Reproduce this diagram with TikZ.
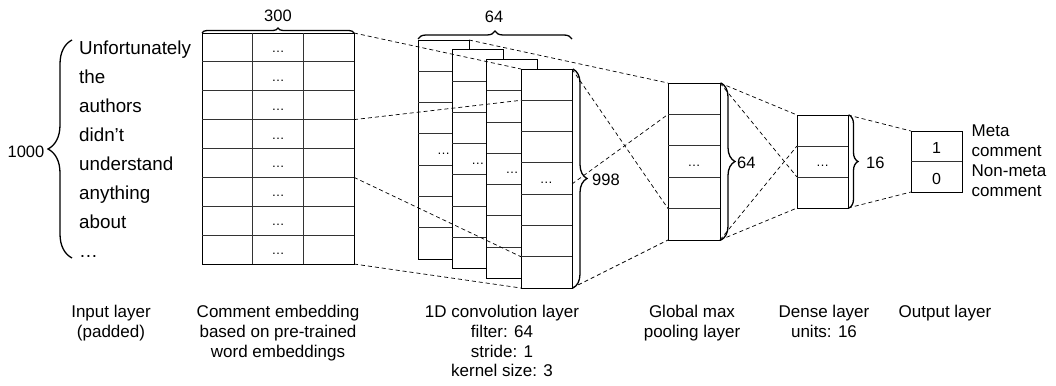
\documentclass[tikz,border=0pt]{standalone}
\usepackage{fontspec}
\setmainfont{Liberation Sans}
\usetikzlibrary{decorations.pathreplacing,calc}
\tikzset{
  layerbox/.style={draw=black, line width=0.8pt, fill=white, inner sep=0pt, outer sep=0pt, anchor=north west},
  gridline/.style={draw=black!80, line width=0.8pt},
  conn/.style={draw=black, line width=0.7pt, dash pattern=on 4pt off 3pt},
  bracedraw/.style={draw=black, line width=1.3pt, decorate, decoration={brace, amplitude=#1}},
  celldots/.style={font=\fontsize{13}{13}\selectfont, inner sep=0pt, anchor=base},
  wordtext/.style={font=\fontsize{18.8}{20}\selectfont, inner sep=0pt, anchor=base west},
  numtext/.style={font=\fontsize{16.5}{18}\selectfont, inner sep=0pt},
  layerlabel/.style={font=\fontsize{17}{19.7}\selectfont, align=center, inner sep=0pt, anchor=north},
}
\begin{document}
\begin{tikzpicture}[x=1pt,y=-1pt]
\useasboundingbox (0,0) rectangle (1056,385);

% input words
\foreach \w/\b [count=\k] in {Unfortunately/55, the/84, authors/113, didn’t/141.5, understand/170.5, anything/199, about/228, …/257}
  \node[wordtext] (w\k) at (79,\b) {\w};
\draw[bracedraw=24pt] (72,258) -- (72,40);
\node[numtext, anchor=base] (n1000) at (26,157) {1000};

% embedding matrix
\node[layerbox, minimum width=152pt, minimum height=231pt] (emb) at (202,33) {};
\foreach \i in {1,...,7}
  \draw[gridline] ($(emb.north west)!{\i/8}!(emb.south west)$) -- ($(emb.north east)!{\i/8}!(emb.south east)$);
\draw[gridline] ($(emb.north west)!{1/3}!(emb.north east)$) -- ($(emb.south west)!{1/3}!(emb.south east)$);
\draw[gridline] ($(emb.north west)!{2/3}!(emb.north east)$) -- ($(emb.south west)!{2/3}!(emb.south east)$);
\foreach \i in {0,...,7}
  \node[celldots] (ed\i) at ($(emb.north)!{(\i+0.5)/8}!(emb.south) + (0,5)$) {…};
\draw[bracedraw=5pt] (202,33) -- (354,33);
\node[numtext, anchor=base] (n300) at (278,22) {300};

% convolution stacks
\foreach \i in {0,...,3} {
  \node[layerbox, minimum width=51pt, minimum height=219pt] (c\i) at ({418+34.33*\i},{40+9.67*\i}) {};
  \foreach \k in {1,...,6}
    \draw[gridline] ($(c\i.north west)!{\k/7}!(c\i.south west)$) -- ($(c\i.north east)!{\k/7}!(c\i.south east)$);
  \node[celldots] (cd\i) at ($(c\i.north)!{3.5/7}!(c\i.south) + (0,5)$) {…};
}
\draw[bracedraw=8pt] (418,39) -- (572,39);
\node[numtext, anchor=base] (n64a) at (494,23) {64};
\draw[bracedraw=14pt] (573,69) -- (573,288);
\node[numtext, anchor=base west] (n998) at (592,185) {998};

% pooling layer
\node[layerbox, minimum width=52pt, minimum height=157pt] (pool) at (668,83) {};
\foreach \k in {1,...,4}
  \draw[gridline] ($(pool.north west)!{\k/5}!(pool.south west)$) -- ($(pool.north east)!{\k/5}!(pool.south east)$);
\node[celldots] (pd) at ($(pool.north)!{2.5/5}!(pool.south) + (0,5)$) {…};
\draw[bracedraw=14pt] (721,83) -- (721,240);
\node[numtext, anchor=base west] (n64b) at (737,168) {64};

% dense layer
\node[layerbox, minimum width=51pt, minimum height=93pt] (dense) at (797,115) {};
\foreach \k in {1,2}
  \draw[gridline] ($(dense.north west)!{\k/3}!(dense.south west)$) -- ($(dense.north east)!{\k/3}!(dense.south east)$);
\node[celldots] (dd) at ($(dense.north)!{1.5/3}!(dense.south) + (0,5)$) {…};
\draw[bracedraw=9pt] (849,115) -- (849,208);
\node[numtext, anchor=base west] (n16) at (866,168) {16};

% output layer
\node[layerbox, minimum width=51pt, minimum height=61pt] (out) at (911,131) {};
\draw[gridline] (out.west) -- (out.east);
\node[numtext, anchor=base, font=\fontsize{16}{18}\selectfont] (o1) at ($(out.north)!0.25!(out.south) + (0,7)$) {1};
\node[numtext, anchor=base, font=\fontsize{16}{18}\selectfont] (o0) at ($(out.north)!0.75!(out.south) + (0,7.5)$) {0};
\node[font=\fontsize{17}{20.2}\selectfont, align=left, anchor=north west, inner sep=0pt] (meta) at (971.5,124.3) {Meta\\comment\\Non-meta\\comment};

% dashed connectors
\draw[conn] (emb.north east) -- (c3.north west);
\draw[conn] ($(emb.north east)!{3/8}!(emb.south east)$) -- ($(c3.north west)!{1/7}!(c3.south west)$);
\draw[conn] ($(emb.north east)!{5/8}!(emb.south east)$) -- ($(c3.north west)!{6/7}!(c3.south west)$);
\draw[conn] (emb.south east) -- (c3.south west);
\draw[conn] (c0.north east) -- (pool.north west);
\draw[conn] (c3.north east) -- ($(pool.north west)!{4/5}!(pool.south west)$);
\draw[conn] ($(c3.north east)!0.525!(c3.south east)$) -- ($(pool.north west)!{1/5}!(pool.south west)$);
\draw[conn] (c3.south east) -- (pool.south west);
\draw[conn] (pool.north east) -- (dense.north west);
\draw[conn] (pool.north east) -- ($(dense.north west)!{2/3}!(dense.south west)$);
\draw[conn] (pool.south east) -- ($(dense.north west)!{1/3}!(dense.south west)$);
\draw[conn] (pool.south east) -- (dense.south west);
\draw[conn] (dense.north east) -- (out.north west);
\draw[conn] (dense.south east) -- (out.south west);

% layer labels
\node[layerlabel] (l1) at (111,305.3) {Input layer\\(padded)};
\node[layerlabel] (l2) at (278,305.3) {Comment embedding\\based on pre-trained\\word embeddings};
\node[layerlabel] (l3) at (502,305.3) {1D convolution layer\\filter: 64\\stride: 1\\kernel size: 3};
\node[layerlabel] (l4) at (692,305.3) {Global max\\pooling layer};
\node[layerlabel] (l5) at (824,305.3) {Dense layer\\units: 16};
\node[layerlabel] (l6) at (945,305.3) {Output layer};
\end{tikzpicture}
\end{document}
